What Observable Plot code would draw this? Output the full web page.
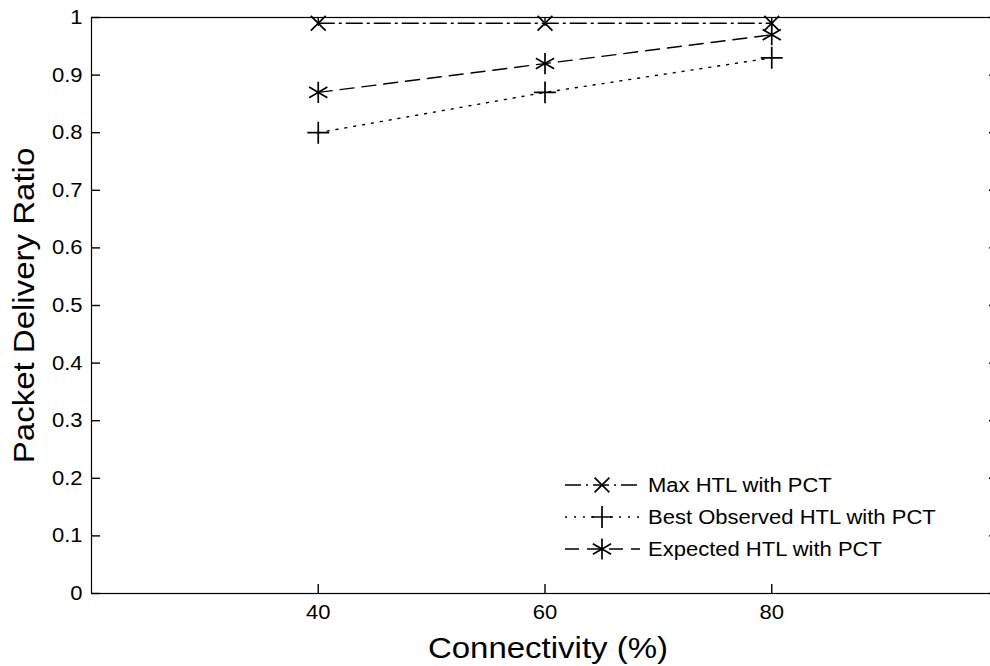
<!DOCTYPE html>
<html>
<head>
<meta charset="utf-8">
<script src="https://cdn.jsdelivr.net/npm/d3@7"></script>
<script src="https://cdn.jsdelivr.net/npm/@observablehq/plot@0.6"></script>
<style>
html, body { margin: 0; padding: 0; background: #fff; overflow: hidden; width: 990px; height: 666px; }
#wrap { position: relative; width: 990px; height: 666px; overflow: hidden; }
#chart svg { max-width: none !important; width: 1000px !important; height: 666px !important; }
#legend { position: absolute; left: 555px; top: 465px; }
</style>
</head>
<body>
<div id="wrap"><div id="chart"></div><div id="legend"></div></div>
<script>
// ---- data ----
const connectivity = [40, 60, 80];
const maxHTL = [0.99, 0.99, 0.99];
const bestObservedHTL = [0.80, 0.87, 0.93];
const expectedHTL = [0.87, 0.92, 0.97];
const seriesNames = ["Max HTL with PCT", "Best Observed HTL with PCT", "Expected HTL with PCT"];
const xTicks = [40, 60, 80];
const yTicks = [0, 0.1, 0.2, 0.3, 0.4, 0.5, 0.6, 0.7, 0.8, 0.9, 1];
const xDomain = [20, 100];
const yDomain = [0, 1];
const xLabel = "Connectivity (%)";
const yLabel = "Packet Delivery Ratio";

// ---- styles / layout ----
const seriesStyle = [
  {dash: "16,5,2,5", symbol: "times", r: 6.8},
  {dash: "2,7", symbol: "plus", r: 7.1},
  {dash: "14,8", symbol: "asterisk", r: 10}
];
const FONT = "'Liberation Sans', Arial, Helvetica, sans-serif";
const STRETCH = 1.1;
const W = 1000, H = 666, ML = 91, MR = 2, MT = 17, MB = 73;
const frameW = W - ML - MR, frameH = H - MT - MB;
const TICK = 9; // tick length in px
// tick length converted to data units of each scale
const tickDX = TICK * (xDomain[1] - xDomain[0]) / frameW;
const tickDY = TICK * (yDomain[1] - yDomain[0]) / frameH;

const seriesValues = [maxHTL, bestObservedHTL, expectedHTL];
const rows = seriesNames.flatMap((name, s) =>
  connectivity.map((c, i) => ({series: name, s, x: c, y: seriesValues[s][i]})));

const lineMarks = seriesNames.flatMap((name, s) => [
  Plot.line(rows.filter(d => d.s === s), {
    x: "x", y: "y", stroke: "black", strokeWidth: 1.4,
    strokeDasharray: seriesStyle[s].dash
  }),
  Plot.dot(rows.filter(d => d.s === s), {
    x: "x", y: "y", symbol: seriesStyle[s].symbol, r: seriesStyle[s].r,
    stroke: "black", strokeWidth: 1.7, fill: "none"
  })
]);

const tickStyle = {stroke: "black", strokeWidth: 1.4};

const chart = Plot.plot({
  width: W,
  height: H,
  marginLeft: ML,
  marginRight: MR,
  marginTop: MT,
  marginBottom: MB,
  style: {fontFamily: FONT, fontSize: "20px", color: "black", background: "white", overflow: "hidden", maxWidth: "none"},
  x: {domain: xDomain, ticks: xTicks},
  y: {domain: yDomain, ticks: yTicks},
  marks: [
    Plot.frame({stroke: "black", strokeWidth: 1.2}),
    // tick labels
    Plot.axisY({anchor: "left", ticks: yTicks, tickSize: 0, tickPadding: 9, label: null, tickFormat: d => String(d), fontSize: 20}),
    Plot.axisX({anchor: "bottom", ticks: xTicks, tickSize: 0, tickPadding: 11, label: null, tickFormat: d => String(d), fontSize: 20}),
    // inward ticks on all four sides
    Plot.ruleY(yTicks, {y: d => d, x1: () => xDomain[0], x2: () => xDomain[0] + tickDX, ...tickStyle}),
    Plot.ruleY(yTicks, {y: d => d, x1: () => xDomain[1] - tickDX, x2: () => xDomain[1], ...tickStyle}),
    Plot.ruleX(xTicks, {x: d => d, y1: () => yDomain[0], y2: () => yDomain[0] + tickDY, ...tickStyle}),
    Plot.ruleX(xTicks, {x: d => d, y1: () => yDomain[1] - tickDY, y2: () => yDomain[1], ...tickStyle}),
    ...lineMarks,
    // axis titles
    Plot.text([yLabel], {text: d => d, frameAnchor: "left", rotate: -90, dx: -67, fontSize: 30, fill: "black", textAnchor: "middle", lineAnchor: "middle"}),
    Plot.text([xLabel], {text: d => d, frameAnchor: "bottom", dx: 3, dy: 55, fontSize: 30, fill: "black", textAnchor: "middle", lineAnchor: "middle"})
  ]
});
document.getElementById("chart").append(chart);

function stretchTexts(root) {
  root.querySelectorAll("text").forEach(t => {
    if (!t.textContent) return;
    const len = t.getComputedTextLength();
    if (len > 0) {
      t.setAttribute("textLength", (len * STRETCH).toFixed(2));
      t.setAttribute("lengthAdjust", "spacingAndGlyphs");
    }
  });
}
stretchTexts(chart);

// ---- legend (inside plot area, lower right) ----
const lg = d3.select("#legend").append("svg")
  .attr("width", 420).attr("height", 100)
  .style("font-family", FONT).style("font-size", "20px");
const rowY = [20, 52, 84];
seriesNames.forEach((name, s) => {
  const g = lg.append("g").attr("transform", `translate(0,${rowY[s]})`);
  g.append("line").attr("x1", 10).attr("x2", 85).attr("y1", 0).attr("y2", 0)
    .attr("stroke", "black").attr("stroke-width", 1.4)
    .attr("stroke-dasharray", seriesStyle[s].dash);
  const symType = {times: d3.symbolTimes, plus: d3.symbolPlus, asterisk: d3.symbolAsterisk}[seriesStyle[s].symbol];
  const r = seriesStyle[s].r;
  g.append("path").attr("transform", "translate(47,0)")
    .attr("d", d3.symbol(symType, Math.PI * r * r)())
    .attr("fill", "none").attr("stroke", "black").attr("stroke-width", 1.7);
  g.append("text").attr("x", 93).attr("y", 0).attr("dy", "0.35em")
    .attr("fill", "black").text(name);
});
stretchTexts(lg.node());
</script>
</body>
</html>
